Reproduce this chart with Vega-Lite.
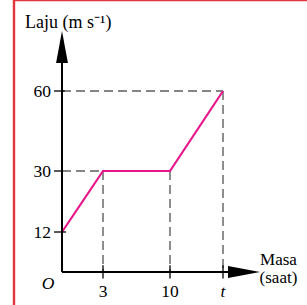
{
  "$schema": "https://vega.github.io/schema/vega-lite/v6.json",
  "autosize": {"type": "none"},
  "padding": 0,
  "width": 307,
  "height": 305,
  "background": "white",
  "config": {"view": {"stroke": null}},
  "datasets": {
    "segs": [
      {"kind": "border", "x": -4, "y": -10, "x2": -4, "y2": 90},
      {"kind": "border", "x": -4, "y": 90, "x2": 20, "y2": 90},
      {"kind": "dash", "x": 0, "y": 60, "x2": 15, "y2": 60},
      {"kind": "dash", "x": 0, "y": 30, "x2": 3, "y2": 30},
      {"kind": "dash", "x": 3, "y": 30, "x2": 3, "y2": 0},
      {"kind": "dash", "x": 10, "y": 30, "x2": 10, "y2": 0},
      {"kind": "dash", "x": 15, "y": 60, "x2": 15, "y2": 0},
      {"kind": "axis", "x": 0, "y": 0, "x2": 0, "y2": 74.5},
      {"kind": "axis", "x": 0, "y": 0, "x2": 16.25, "y2": 0},
      {"kind": "tick", "x": -0.67, "y": 12, "x2": 0.3, "y2": 12},
      {"kind": "tick", "x": -0.67, "y": 30, "x2": 0, "y2": 30},
      {"kind": "tick", "x": -0.67, "y": 60, "x2": 0.2, "y2": 60},
      {"kind": "tick", "x": 3, "y": -2, "x2": 3, "y2": 2},
      {"kind": "tick", "x": 10, "y": -2, "x2": 10, "y2": 2},
      {"kind": "tick", "x": 15, "y": -2, "x2": 15, "y2": 2}
    ],
    "speed": [
      {"masa": 0, "laju": 12},
      {"masa": 3, "laju": 30},
      {"masa": 10, "laju": 30},
      {"masa": 15, "laju": 60}
    ],
    "arrows": [
      {"dir": "up", "x": 0, "y": 74.5},
      {"dir": "right", "x": 16.25, "y": 0}
    ],
    "yticks": [{"v": 12, "label": "12"}, {"v": 30, "label": "30"}, {"v": 60, "label": "60"}],
    "xticks": [{"v": 3, "label": "3"}, {"v": 10, "label": "10"}],
    "one": [{}]
  },
  "layer": [
    {
      "data": {"name": "segs"},
      "transform": [{"filter": "datum.kind === 'border'"}],
      "mark": {"type": "rule", "color": "#e3363c", "strokeWidth": 2.4},
      "encoding": {
        "x": {"field": "x", "type": "quantitative", "axis": null,
              "scale": {"domain": [-4, 0, 3, 10, 15, 20], "range": [14, 62, 103, 170, 223, 307], "nice": false, "zero": false}},
        "y": {"field": "y", "type": "quantitative", "axis": null,
              "scale": {"domain": [-10, 0, 12, 30, 60, 90], "range": [305, 272, 232, 171, 91, 0], "nice": false, "zero": false}},
        "x2": {"field": "x2"},
        "y2": {"field": "y2"}
      }
    },
    {
      "data": {"name": "segs"},
      "transform": [{"filter": "datum.kind === 'dash'"}],
      "mark": {"type": "rule", "color": "#5e5e5e", "strokeWidth": 1.4, "strokeDash": [9, 5]},
      "encoding": {
        "x": {"field": "x", "type": "quantitative"},
        "y": {"field": "y", "type": "quantitative"},
        "x2": {"field": "x2"},
        "y2": {"field": "y2"}
      }
    },
    {
      "data": {"name": "speed"},
      "mark": {"type": "line", "color": "#e8168a", "strokeWidth": 2.2},
      "encoding": {
        "x": {"field": "masa", "type": "quantitative"},
        "y": {"field": "laju", "type": "quantitative"}
      }
    },
    {
      "data": {"name": "segs"},
      "transform": [{"filter": "datum.kind === 'axis'"}],
      "mark": {"type": "rule", "color": "black", "strokeWidth": 2},
      "encoding": {
        "x": {"field": "x", "type": "quantitative"},
        "y": {"field": "y", "type": "quantitative"},
        "x2": {"field": "x2"},
        "y2": {"field": "y2"}
      }
    },
    {
      "data": {"name": "segs"},
      "transform": [{"filter": "datum.kind === 'tick'"}],
      "mark": {"type": "rule", "color": "black", "strokeWidth": 1.3},
      "encoding": {
        "x": {"field": "x", "type": "quantitative"},
        "y": {"field": "y", "type": "quantitative"},
        "x2": {"field": "x2"},
        "y2": {"field": "y2"}
      }
    },
    {
      "data": {"name": "arrows"},
      "mark": {"type": "point", "filled": true, "color": "black", "opacity": 1, "size": 1024, "strokeWidth": 0},
      "encoding": {
        "x": {"field": "x", "type": "quantitative"},
        "y": {"field": "y", "type": "quantitative"},
        "shape": {"field": "dir", "type": "nominal", "legend": null,
                  "scale": {"domain": ["up", "right"], "range": ["M0,-1L0.37,1L-0.37,1Z", "M1,0L-1,0.37L-1,-0.37Z"]}}
      }
    },
    {
      "data": {"name": "yticks"},
      "mark": {"type": "text", "align": "right", "baseline": "middle", "dx": -11, "dy": 1, "font": "Liberation Serif", "fontSize": 17.5, "color": "black"},
      "encoding": {
        "x": {"datum": 0, "type": "quantitative"},
        "y": {"field": "v", "type": "quantitative"},
        "text": {"field": "label"}
      }
    },
    {
      "data": {"name": "xticks"},
      "mark": {"type": "text", "align": "center", "baseline": "alphabetic", "dy": 24.5, "font": "Liberation Serif", "fontSize": 17.5, "color": "black"},
      "encoding": {
        "x": {"field": "v", "type": "quantitative"},
        "y": {"datum": 0, "type": "quantitative"},
        "text": {"field": "label"}
      }
    },
    {
      "data": {"name": "one"},
      "mark": {"type": "text", "text": "t", "align": "center", "baseline": "alphabetic", "dy": 24.5, "font": "Liberation Serif", "fontSize": 17.5, "fontStyle": "italic", "color": "black"},
      "encoding": {
        "x": {"datum": 15, "type": "quantitative"},
        "y": {"datum": 0, "type": "quantitative"}
      }
    },
    {
      "data": {"name": "one"},
      "mark": {"type": "text", "text": "O", "align": "center", "baseline": "alphabetic", "dx": -14, "dy": 16.5, "font": "Liberation Serif", "fontSize": 17.5, "fontStyle": "italic", "color": "black"},
      "encoding": {
        "x": {"datum": 0, "type": "quantitative"},
        "y": {"datum": 0, "type": "quantitative"}
      }
    },
    {
      "data": {"name": "one"},
      "mark": {"type": "text", "text": ["Masa", "(saat)"], "align": "center", "baseline": "alphabetic", "lineHeight": 18, "font": "Liberation Serif", "fontSize": 17, "color": "black"},
      "encoding": {
        "x": {"datum": 18.3, "type": "quantitative"},
        "y": {"datum": 2.1, "type": "quantitative"}
      }
    },
    {
      "data": {"name": "one"},
      "mark": {"type": "text", "text": "Laju (m s⁻¹)", "align": "left", "baseline": "alphabetic", "font": "Liberation Serif", "fontSize": 18, "color": "black"},
      "encoding": {
        "x": {"datum": -3.08, "type": "quantitative"},
        "y": {"datum": 80.9, "type": "quantitative"}
      }
    }
  ]
}
